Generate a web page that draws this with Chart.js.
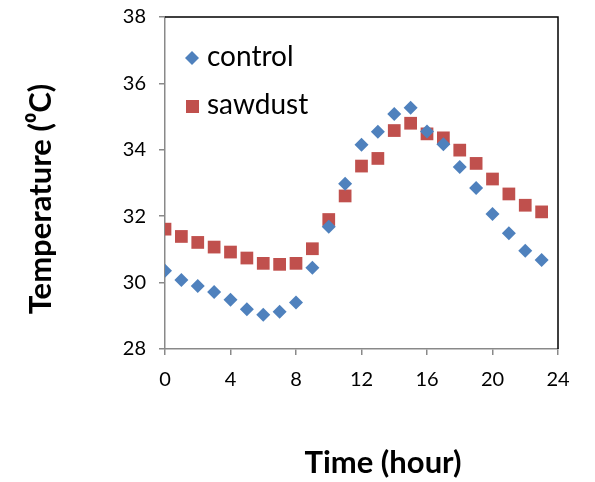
<!DOCTYPE html>
<html>
<head>
<meta charset="utf-8">
<script src="https://cdn.jsdelivr.net/npm/chart.js@4/dist/chart.umd.min.js"></script>
<style>
  html, body { margin: 0; padding: 0; background: #fff; }
  canvas { display: block; }
</style>
</head>
<body>
<canvas id="myChart" width="595" height="482"></canvas>
<script>
// hours 0..23
const hours = [0, 1, 2, 3, 4, 5, 6, 7, 8, 9, 10, 11, 12, 13, 14, 15, 16, 17, 18, 19, 20, 21, 22, 23]
const control = [30.36, 30.08, 29.90, 29.72, 29.48, 29.20, 29.03, 29.12, 29.40, 30.45, 31.68, 32.98,
    34.15, 34.54, 35.08, 35.27, 34.55, 34.17, 33.48, 32.85, 32.07, 31.49, 30.96, 30.68]
const sawdust = [31.61, 31.39, 31.21, 31.07, 30.92, 30.74, 30.58, 30.55, 30.58, 31.02, 31.90, 32.61,
    33.51, 33.74, 34.58, 34.80, 34.48, 34.36, 33.99, 33.59, 33.12, 32.67, 32.33, 32.13]
const seriesNames = ['control', 'sawdust']
const xTicks = [0, 4, 8, 12, 16, 20, 24]
const yTicks = [28, 30, 32, 34, 36, 38]

const blue = '#4F81BD'
const red = '#C0504D'
const fontName = 'Lato, "Open Sans", sans-serif'

function toPoints(vals) {
    return hours.map((h, i) => ({ x: h, y: vals[i] }))
}

// frame, legend and axis titles
const extras = {
    id: 'extras',
    afterDraw(chart) {
        const ctx = chart.ctx
        const a = chart.chartArea
        ctx.save()
        ctx.strokeStyle = '#000'
        ctx.lineWidth = 1.5
        ctx.beginPath()
        ctx.moveTo(a.left, a.top)
        ctx.lineTo(a.right, a.top)
        ctx.lineTo(a.right, a.bottom)
        ctx.stroke()

        // legend
        ctx.fillStyle = blue
        ctx.beginPath()
        ctx.moveTo(185, 58); ctx.lineTo(192, 51); ctx.lineTo(199, 58); ctx.lineTo(192, 65)
        ctx.closePath(); ctx.fill()
        ctx.fillStyle = red
        ctx.fillRect(186, 100, 13, 13)
        ctx.fillStyle = '#000'
        ctx.font = '28px ' + fontName
        ctx.textBaseline = 'middle'
        ctx.textAlign = 'left'
        ctx.fillText(seriesNames[0], 207, 57)
        ctx.fillText(seriesNames[1], 207, 105)

        // axis titles
        ctx.font = 'bold 31px ' + fontName
        ctx.textAlign = 'center'
        ctx.fillText('Time (hour)', 383, 463)
        ctx.translate(41, 199)
        ctx.rotate(-Math.PI / 2)
        ctx.fillText('Temperature (\u2070C)', 0, 0)
        ctx.restore()
    }
}

const config = {
    type: 'scatter',
    data: {
        datasets: [{
            label: seriesNames[0],
            data: toPoints(control),
            pointStyle: 'rectRot',
            pointRadius: 7,
            backgroundColor: blue,
            borderColor: blue,
            borderWidth: 0
        }, {
            label: seriesNames[1],
            data: toPoints(sawdust),
            pointStyle: 'rect',
            pointRadius: 9,
            backgroundColor: red,
            borderColor: red,
            borderWidth: 0
        }]
    },
    options: {
        responsive: false,
        animation: false,
        layout: {
            padding: { top: 17, right: 37, left: 0, bottom: 0 }
        },
        plugins: {
            legend: { display: false },
            tooltip: { enabled: false }
        },
        scales: {
            x: {
                type: 'linear',
                min: 0,
                max: 24,
                afterBuildTicks: (s) => { s.ticks = xTicks.map(v => ({ value: v })) },
                afterFit: (s) => { s.height = 133; s.paddingLeft = 0; s.paddingRight = 0 },
                grid: { drawOnChartArea: false, tickLength: 6, color: '#898989', lineWidth: 1.5 },
                border: { color: '#898989', width: 1.5 },
                ticks: { font: { family: fontName, size: 20 }, color: '#000', padding: 13, maxRotation: 0 }
            },
            y: {
                min: 28,
                max: 38,
                afterBuildTicks: (s) => { s.ticks = yTicks.map(v => ({ value: v })) },
                afterFit: (s) => { s.width = 165; s.paddingTop = 0; s.paddingBottom = 0 },
                grid: { drawOnChartArea: false, tickLength: 6, color: '#898989', lineWidth: 1.5 },
                border: { color: '#898989', width: 1.5 },
                ticks: { font: { family: fontName, size: 20 }, color: '#000', padding: 13 }
            }
        }
    },
    plugins: [extras]
}

new Chart(document.getElementById('myChart'), config)
</script>
</body>
</html>
